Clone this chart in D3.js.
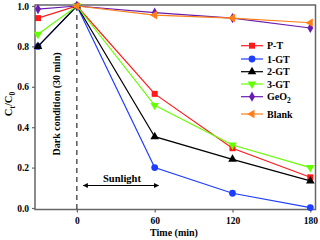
<!DOCTYPE html>
<html>
<head>
<meta charset="utf-8">
<script src="https://cdn.jsdelivr.net/npm/d3@7"></script>
<style>
  body { margin: 0; background: #fff; }
  svg { display: block; font-family: "Liberation Serif", "Times New Roman", serif; font-weight: bold; }
</style>
</head>
<body>
<div id="chart"></div>
<script>
const times = [-30, 0, 60, 120, 180];
const seriesNames = ['P-T', '1-GT', '2-GT', '3-GT', 'GeO2', 'Blank'];
const ptValues = [0.94, 1.0, 0.565, 0.296, 0.152];
const gt1Values = [0.80, 1.0, 0.20, 0.073, 0.002];
const gt2Values = [0.80, 1.0, 0.353, 0.241, 0.134];
const gt3Values = [0.86, 1.0, 0.508, 0.312, 0.20];
const geo2Values = [0.985, 1.0, 0.967, 0.94, 0.891];
const blankValues = [null, 1.0, 0.955, 0.94, 0.917];
const xTicks = [0, 60, 120, 180];
const yTicks = [0.0, 0.2, 0.4, 0.6, 0.8, 1.0];

const series = [
  { name: 'P-T', values: ptValues, color: '#ff1a1a', symbol: d3.symbolSquare, size: 36 },
  { name: '1-GT', values: gt1Values, color: '#1f3dff', symbol: d3.symbolCircle, size: 36 },
  { name: '2-GT', values: gt2Values, color: '#000000', symbol: d3.symbolTriangle, size: 32 },
  { name: '3-GT', values: gt3Values, color: '#66ff00', symbol: d3.symbolTriangle, size: 32, rotate: 180 },
  { name: 'GeO2', values: geo2Values, color: '#6a1bb0', symbol: d3.symbolDiamond, size: 30 },
  { name: 'Blank', values: blankValues, color: '#ff7f1a', symbol: d3.symbolTriangle, size: 32, rotate: -90 }
];

const width = 320, height = 240;
const margin = { left: 35, right: 4.5, top: 5, bottom: 30.5 };

const svg = d3.select('#chart').append('svg')
  .attr('width', width).attr('height', height);

const x = d3.scaleLinear().domain([-32.3, 184]).range([margin.left, width - margin.right]);
const y = d3.scaleLinear().domain([0, 1.0]).range([208, 6]);

const axisColor = '#666';

// frame
svg.append('rect')
  .attr('x', margin.left).attr('y', margin.top)
  .attr('width', width - margin.right - margin.left)
  .attr('height', height - margin.bottom - margin.top)
  .attr('fill', 'none').attr('stroke', axisColor).attr('stroke-width', 1.5);

const yAxis = svg.append('g')
  .attr('transform', `translate(${margin.left},0)`)
  .call(d3.axisLeft(y).tickValues(yTicks).tickFormat(d3.format('.1f')).tickSize(3).tickPadding(3));
const xAxis = svg.append('g')
  .attr('transform', `translate(0,${height - margin.bottom})`)
  .call(d3.axisBottom(x).tickValues(xTicks).tickSize(3).tickPadding(5));

[xAxis, yAxis].forEach(a => {
  a.select('.domain').remove();
  a.selectAll('line').attr('stroke', axisColor).attr('stroke-width', 1.2);
  a.selectAll('text').attr('fill', '#000').style('font-size', '9.5px').style('font-weight', 'bold')
    .style('font-family', '"Liberation Serif", serif');
});

// dark condition dashed line
svg.append('line')
  .attr('x1', x(0)).attr('x2', x(0))
  .attr('y1', y(1.0)).attr('y2', height - margin.bottom)
  .attr('stroke', '#000').attr('stroke-width', 1).attr('stroke-dasharray', '5,4');

svg.append('text')
  .attr('transform', `translate(60,104) rotate(-90)`)
  .attr('text-anchor', 'middle')
  .style('font-size', '10px')
  .text('Dark condition (30 min)');

// sunlight arrow
svg.append('defs').append('marker')
  .attr('id', 'arr').attr('viewBox', '0 0 10 10').attr('refX', 9).attr('refY', 5)
  .attr('markerWidth', 6).attr('markerHeight', 5).attr('orient', 'auto-start-reverse')
  .append('path').attr('d', 'M0,0 L10,5 L0,10 z').attr('fill', '#000');
svg.append('line')
  .attr('x1', x(5)).attr('x2', x(63))
  .attr('y1', 185.5).attr('y2', 185.5)
  .attr('stroke', '#000').attr('stroke-width', 1)
  .attr('marker-start', 'url(#arr)').attr('marker-end', 'url(#arr)');
svg.append('text')
  .attr('x', 122).attr('y', 182)
  .attr('text-anchor', 'middle')
  .style('font-size', '10.5px')
  .text('Sunlight');

// series
const line = d3.line()
  .defined(d => d.v !== null)
  .x(d => x(d.t)).y(d => y(d.v));

series.forEach(s => {
  const pts = times.map((t, i) => ({ t, v: s.values[i] }));
  svg.append('path')
    .datum(pts)
    .attr('d', line)
    .attr('fill', 'none').attr('stroke', s.color).attr('stroke-width', 1.2);
  svg.selectAll(null)
    .data(pts.filter(d => d.v !== null))
    .join('path')
    .attr('d', d3.symbol().type(s.symbol).size(s.size))
    .attr('transform', d => `translate(${x(d.t)},${y(d.v)}) rotate(${s.rotate || 0})`)
    .attr('fill', s.color);
});

// legend
const legendY = [45.7, 59, 71.7, 84, 96.7, 114];
const legend = svg.append('g');
series.forEach((s, i) => {
  const g = legend.append('g').attr('transform', `translate(241,${legendY[i]})`);
  g.append('line').attr('x1', 0).attr('x2', 22).attr('stroke', s.color).attr('stroke-width', 1.2);
  g.append('path')
    .attr('d', d3.symbol().type(s.symbol).size(s.size))
    .attr('transform', `translate(11,0) rotate(${s.rotate || 0})`)
    .attr('fill', s.color);
  const t = g.append('text').attr('x', 26).attr('y', 3.5).style('font-size', '10px');
  if (s.name === 'GeO2') {
    t.append('tspan').text('GeO');
    t.append('tspan').attr('dy', 3).style('font-size', '7.5px').text('2');
  } else {
    t.text(s.name);
  }
});

// axis labels
const yl = svg.append('text')
  .attr('transform', `translate(12,104) rotate(-90)`)
  .attr('text-anchor', 'middle')
  .style('font-size', '10.5px');
yl.append('tspan').text('C');
yl.append('tspan').attr('dy', 2.5).style('font-size', '7.5px').text('t');
yl.append('tspan').attr('dy', -2.5).text('/C');
yl.append('tspan').attr('dy', 2.5).style('font-size', '7.5px').text('0');

svg.append('text')
  .attr('x', 174).attr('y', 236)
  .attr('text-anchor', 'middle')
  .style('font-size', '10px')
  .text('Time (min)');
</script>
</body>
</html>
